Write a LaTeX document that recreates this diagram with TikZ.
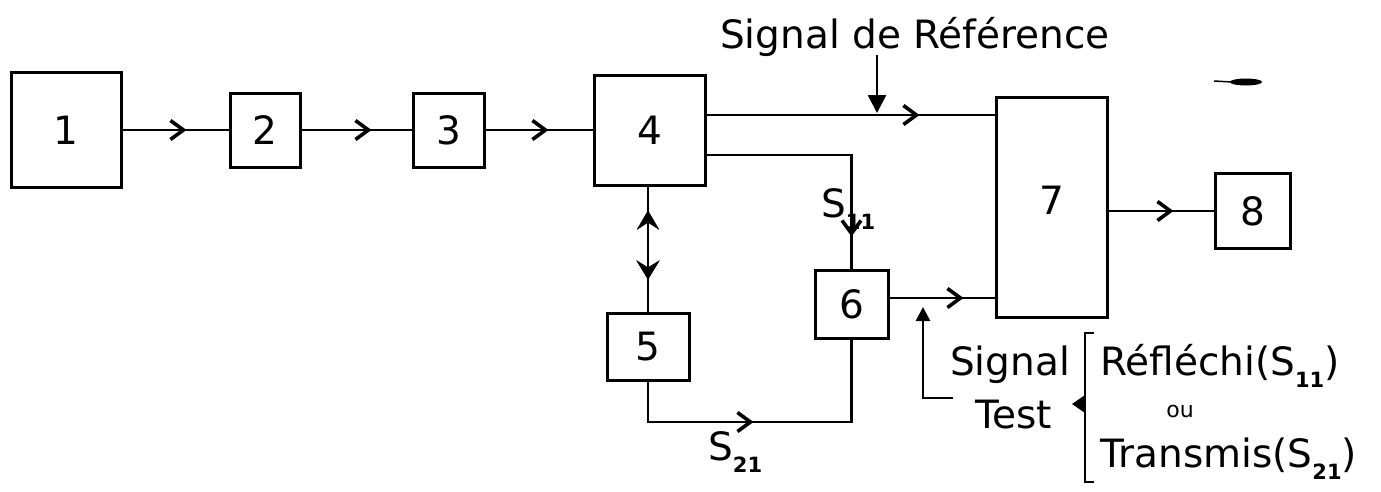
\documentclass[tikz,border=0pt]{standalone}
\usepackage{fontspec}
\setmainfont{DejaVu Sans}
\usetikzlibrary{arrows.meta,decorations.markings}
\newcommand\subsc[1]{\raisebox{-0.33em}{\fontsize{21}{22}\selectfont\bfseries #1}}
\tikzset{
  box/.style={draw,line width=3pt,inner sep=0pt,font=\fontsize{39}{41}\selectfont},
  wire/.style={line width=2.8pt},
  lbl/.style={inner sep=0pt,font=\fontsize{39}{41}\selectfont},
  small/.style={inner sep=0pt,font=\fontsize{22}{24}\selectfont},
  midarrow/.style={postaction={decorate},decoration={markings,
    mark=at position #1 with {\arrow{Straight Barb[length=13pt,width=19pt,line width=3.6pt]}}}},
  stealthfwd/.style={postaction={decorate},decoration={markings,
    mark=at position #1 with {\arrow{Stealth[length=19pt,width=23pt,inset=7pt]}}}},
  stealthback/.style={postaction={decorate},decoration={markings,
    mark=at position #1 with {\arrowreversed{Stealth[length=19pt,width=22pt,inset=7pt]}}}},
  filltip/.style={-{Triangle[length=#1,width=#1]}}
}
\begin{document}
\begin{tikzpicture}[x=1pt,y=-1pt]
\fill[white] (0,0) rectangle (1381,491);
\useasboundingbox (0,0) rectangle (1381,491);

% boxes
\node[box,minimum width=110pt,minimum height=115pt] (b1) at (66,130) {1};
\node[box,minimum width=70pt,minimum height=74pt] (b2) at (265,130) {2};
\node[box,minimum width=71pt,minimum height=74pt] (b3) at (448.5,130) {3};
\node[box,minimum width=111pt,minimum height=110pt] (b4) at (649.5,130) {4};
\node[box,minimum width=82pt,minimum height=67pt] (b5) at (648,346.5) {5};
\node[box,minimum width=73pt,minimum height=68pt] (b6) at (851.5,304) {6};
\node[box,minimum width=111pt,minimum height=220pt] (b7) at (1051.5,207) {};
\node[lbl] (l7) at (1051.5,200) {7};
\node[box,minimum width=75pt,minimum height=75pt] (b8) at (1252.5,211) {8};

% chain
\draw[wire,midarrow=64pt] (b1) -- (b2);
\draw[wire,midarrow=70pt] (b2) -- (b3);
\draw[wire,midarrow=63pt] (b3) -- (b4);
\draw[wire,midarrow=213pt] (b4.east |- 0,115) -- (b7.west |- 0,115);
\draw[wire,midarrow=-32pt] (b4.east |- 0,155) -| (b6.north);
\draw[wire,stealthback=24pt,stealthfwd=93pt] (b5.north |- b4.south) -- (b5.north);
\coordinate (s21) at (750,422);
\draw[wire,midarrow=146pt] (b5.south) |- (s21) -| (b6.south);
\draw[wire,midarrow=74pt] (b6.east |- 0,298) -- (b7.west |- 0,298);
\draw[wire,midarrow=65pt] (b7.east |- b8) -- (b8.west);

% reference signal
\node[lbl,anchor=base west] (sigref) at (720,48) {Signal de Référence};
\coordinate (refsrc) at (877,55);
\coordinate (reftip) at (877,113);
\draw[wire,filltip=18pt] (refsrc) -- (reftip);

% S labels
\node[lbl,anchor=base west] (s11lbl) at (821,217) {S\subsc{11}};
\node[lbl,anchor=base west] (s21lbl) at (708,460) {S\subsc{21}};

% test signal
\coordinate (testsrc) at (953,398);
\coordinate (testtip) at (923,307);
\draw[wire,filltip=14pt] (testsrc) -| (testtip);
\node[lbl,anchor=base west] (sig) at (950,375) {Signal};
\node[lbl,anchor=base west] (test) at (975,428) {Test};
\draw[wire] (1094,333) -- (1085,333) -- (1085,482) -- (1094,482);
\fill (1085,395) -- (1072,404) -- (1085,413) -- cycle;
\node[lbl,anchor=base west] (refl) at (1100,375) {Réfléchi(S\subsc{11})};
\node[small,anchor=base] (ou) at (1180,417) {ou};
\node[lbl,anchor=base west] (trans) at (1100,467) {Transmis(S\subsc{21})};

% stray mark
\fill (1246,82) ellipse [x radius=16pt, y radius=3.5pt];
\draw[line width=1.5pt] (1214,81) -- (1232,82);
\end{tikzpicture}
\end{document}
